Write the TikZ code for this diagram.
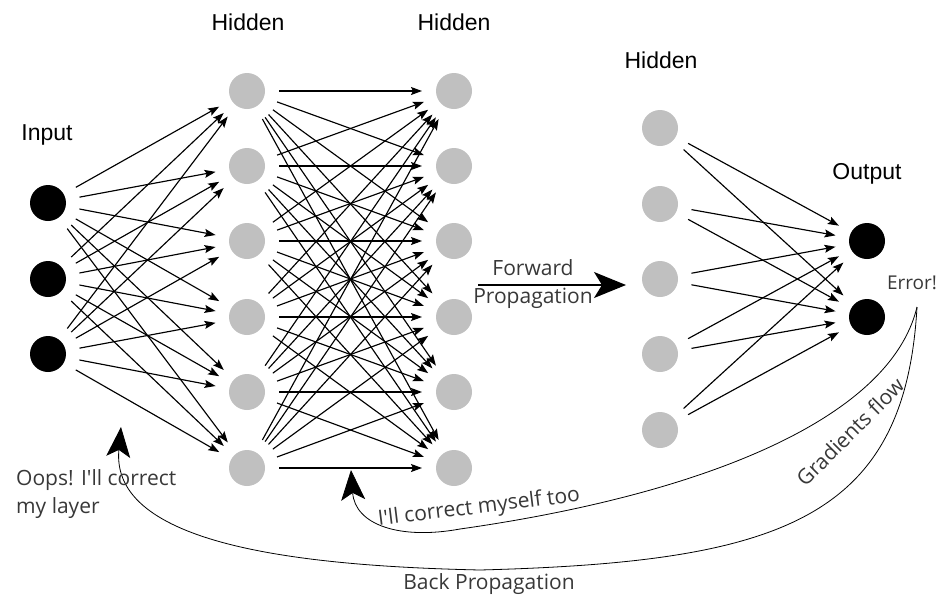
\documentclass[tikz,border=0pt]{standalone}
\usepackage{fontspec}
\setmainfont{Liberation Sans}
\newfontfamily\annfont{Open Sans}
\usetikzlibrary{arrows.meta}
\definecolor{nodegray}{HTML}{C0C0C0}
\definecolor{anntext}{HTML}{383838}
\begin{document}
\begin{tikzpicture}[x=1pt,y=-1pt,
  neuron/.style={circle,minimum size=36pt,inner sep=0pt,outer sep=14pt},
  inneuron/.style={neuron,fill=black},
  hidneuron/.style={neuron,fill=nodegray},
  conn/.style={line width=1.15pt,-{Stealth[length=11pt,width=8pt,inset=2pt]}},
  fwdarrow/.style={line width=1.4pt,-{Stealth[length=32pt,width=26pt,inset=8pt]}},
  backarrow/.style={line width=0.8pt,-{Stealth[length=30pt,width=24pt,inset=7pt]}},
  layerlabel/.style={font=\fontsize{23}{27}\selectfont,inner sep=0pt},
  annot/.style={font=\annfont\fontsize{21}{28}\selectfont,text=anntext,inner sep=0pt}
]
\useasboundingbox (0,0) rectangle (940,600);
% layers
\foreach \y [count=\i] in {203,279,354} \node[inneuron] (i\i) at (48,\y) {};
\foreach \y [count=\i] in {91,166,241,317,392,468} {
  \node[hidneuron] (a\i) at (247,\y) {};
  \node[hidneuron] (b\i) at (454,\y) {};
}
\foreach \y [count=\i] in {128,204,279,354,430} \node[hidneuron] (c\i) at (660,\y) {};
\foreach \y [count=\i] in {241,317} \node[inneuron] (o\i) at (867,\y) {};
% labels
\node[layerlabel] (linput) at (47,135) {Input};
\node[layerlabel] (lh1) at (248,22) {Hidden};
\node[layerlabel] (lh2) at (454,22) {Hidden};
\node[layerlabel] (lh3) at (661,60) {Hidden};
\node[layerlabel] (lout) at (867,174) {Output};
% connections
\foreach \s in {1,...,3} \foreach \t in {1,...,6} \draw[conn] (i\s) -- (a\t);
\foreach \s in {1,...,6} \foreach \t in {1,...,6} \draw[conn] (a\s) -- (b\t);
\foreach \s in {1,...,5} \foreach \t in {1,2} \draw[conn] (c\s) -- (o\t);
% forward propagation
\coordinate (f1) at (478,285);
\coordinate (f2) at (626,285);
\draw[fwdarrow] (f1) -- (f2);
\node[annot,align=center] (lfwd) at (533,284) {Forward\\Propagation};
% back propagation
\coordinate (err) at (917,307);
\coordinate (t1) at (121,427);
\coordinate (t2) at (351,470);
\draw[backarrow] (err) .. controls (905,520) and (780,562) .. (480,570) .. controls (300,566) and (110,545) .. (t1);
\draw[backarrow] (err) .. controls (890,420) and (700,495) .. (460,529) .. controls (400,540) and (355,525) .. (t2);
\node[annot,font=\annfont\fontsize{19}{24}\selectfont] (lerr) at (912,283) {Error!};
\node[annot,align=left,anchor=north west] (loops) at (16,469) {Oops! I'll correct\\my layer};
\node[annot] (lback) at (489,584) {Back Propagation};
\node[annot,rotate=7] (lself) at (479,508) {I'll correct myself too};
\node[annot,rotate=45] (lgrad) at (850,432) {Gradients flow};
\end{tikzpicture}
\end{document}
